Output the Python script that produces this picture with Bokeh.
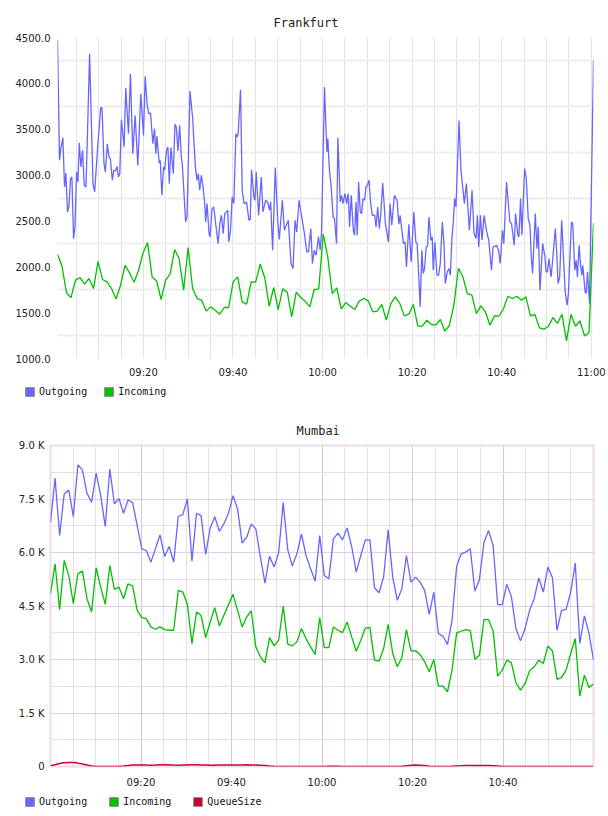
from bokeh.plotting import figure
from bokeh.models import FixedTicker, Legend, LegendItem, Range1d
from bokeh.layouts import column
from bokeh.embed import file_html
from bokeh.resources import INLINE

# ---------------- data: minutes after 09:00 ----------------
x_tick_minutes = [20, 40, 60, 80, 100, 120]
x_tick_labels = ["09:20", "09:40", "10:00", "10:20", "10:40", "11:00"]

fra_y_ticks = [1000, 1500, 2000, 2500, 3000, 3500, 4000, 4500]
fra_y_labels = ["1000.0", "1500.0", "2000.0", "2500.0", "3000.0", "3500.0", "4000.0", "4500.0"]

mum_y_ticks = [0, 1500, 3000, 4500, 6000, 7500, 9000]
mum_y_labels = ["0", "1.5 K", "3.0 K", "4.5 K", "6.0 K", "7.5 K", "9.0 K"]

# Frankfurt - Outgoing (irregular sample times, minutes after 09:00)
fra_out_min = [
    0.82, 1.27, 1.57, 2.02, 2.39, 2.69, 3.06, 3.36, 3.73, 4.03,
    4.41, 4.71, 5.08, 5.38, 5.68, 6.05, 6.42, 6.80, 7.17, 7.47,
    7.99, 8.74, 9.11, 9.79, 10.46, 10.76, 11.20, 11.50, 11.95, 12.33,
    12.62, 13.07, 13.37, 13.75, 14.12, 14.42, 14.72, 15.09, 15.69, 16.06,
    16.66, 17.10, 17.63, 18.15, 18.75, 19.42, 20.02, 20.39, 20.84, 21.21,
    21.59, 22.11, 22.48, 22.78, 23.01, 23.53, 23.75, 24.13, 24.50, 24.73,
    25.17, 25.47, 25.77, 26.14, 26.67, 27.04, 27.34, 27.71, 28.09, 28.46,
    28.68, 29.43, 29.73, 30.40, 31.00, 31.60, 31.97, 32.27, 32.57, 32.94,
    33.32, 33.69, 33.91, 34.21, 34.66, 34.89, 35.33, 35.71, 36.08, 36.68,
    37.05, 37.42, 37.80, 38.17, 38.54, 38.84, 39.07, 39.44, 39.82, 40.19,
    40.64, 40.94, 41.16, 41.68, 42.06, 42.50, 43.03, 43.55, 43.85, 44.15,
    44.67, 44.90, 45.19, 45.72, 46.31, 46.69, 47.29, 47.73, 48.18, 48.41,
    48.85, 49.45, 49.98, 50.35, 51.02, 51.47, 51.92, 52.36, 52.96, 53.41,
    53.86, 54.23, 54.76, 55.28, 55.95, 56.47, 56.85, 57.37, 57.74, 58.12,
    58.56, 59.09, 59.46, 59.76, 60.43, 60.96, 61.18, 61.48, 61.85,
    62.37, 62.67, 63.12, 63.42, 63.94, 64.24, 64.54, 64.99, 65.36, 65.73,
    66.03, 66.41, 66.86, 67.15, 67.45, 67.75, 68.05, 68.42, 68.72, 69.02,
    69.40, 69.69, 69.99, 70.37, 70.74, 71.11, 71.64, 71.94, 72.31, 72.68,
    72.98, 73.43, 74.03, 74.70, 75.07, 75.45, 76.04, 76.64, 77.01, 77.31,
    78.06, 78.43, 78.73, 79.26, 79.78, 80.38, 80.82, 81.12, 81.80, 82.17,
    82.47, 82.77, 83.14, 83.44, 83.74, 84.19, 84.48, 84.71, 85.08, 85.53,
    85.90, 86.28, 86.73, 87.10, 87.40, 87.85, 88.22, 88.52, 88.89, 89.19,
    89.49, 89.79, 90.46, 90.91, 91.66, 92.10, 92.78, 93.37, 93.82, 94.27,
    94.57, 94.87, 95.24, 95.61, 96.06, 96.59, 97.11, 97.71, 98.08, 98.53,
    98.83, 99.28, 99.65, 100.17, 100.47, 101.07, 101.82, 102.19, 102.79, 103.09,
    103.61, 103.83, 104.21, 104.50, 105.10, 105.48, 105.92, 106.30, 106.60, 106.89,
    107.49, 107.87, 108.16, 108.54, 109.14, 109.66, 109.88, 110.18, 110.55, 111.00,
    111.30, 111.97, 112.27, 112.57, 112.94, 113.39, 114.14, 114.59, 114.89, 115.56,
    115.86, 116.31, 116.61, 116.90, 117.28, 117.58, 117.88, 118.10, 118.62, 118.85,
    119.15, 119.60, 120.49,
]
fra_out = [
    4475, 3161, 3288, 3408, 2870, 3023, 2598, 2652, 2961, 2979,
    2307, 2434, 3034, 2925, 3353, 3088, 3270, 2888, 2870, 3379,
    4323, 2907, 2816, 3306, 3734, 3734, 3124, 3034, 3342, 3190,
    3179, 2943, 3052, 3045, 3095, 2979, 3015, 3604, 3306, 3952,
    3451, 4105, 3233, 3651, 3106, 3887, 3433, 4076, 3760, 3669,
    3676, 3342, 3506, 3233, 3422, 3132, 3161, 2779, 3088, 3052,
    3270, 3306, 2907, 3299, 3015, 3553, 3524, 3262, 3542, 3197,
    3124, 2489, 2543, 3916, 3615, 3088, 2943, 3015, 2834, 2997,
    2870, 2689, 2489, 2689, 2362, 2326, 2634, 2652, 2489, 2253,
    2471, 2562, 2362, 2580, 2598, 2616, 2271, 2398, 2761, 2689,
    3451, 3415, 3451, 3930, 2834, 2689, 2707, 2507, 2514, 3059,
    2761, 2725, 3034, 2562, 2979, 2598, 2725, 2707, 2616, 2707,
    2180, 3081, 2507, 2297, 2725, 2398, 2453, 2507, 2035, 1981,
    2507, 2380, 2725, 2562, 2362, 2162, 2162, 2416, 2035, 2180,
    2126, 2326, 2180, 2362, 3960, 3251, 3397, 3088, 2907,
    2543, 2525, 2253, 3408, 2707, 2779, 2689, 2798, 2689, 2798,
    2434, 2779, 2398, 2344, 2707, 2344, 2925, 2598, 2580, 2743,
    2725, 2870, 2888, 2943, 2689, 2562, 2562, 2434, 2652, 2416,
    2562, 2914, 2471, 2271, 2689, 2453, 2779, 2725, 2464, 2562,
    2253, 2271, 1999, 2464, 2053, 2598, 2271, 2253, 1563, 2180,
    1926, 1981, 2217, 2224, 2543, 2289, 2326, 1962, 2271, 1908,
    1908, 2035, 2489, 2253, 1817, 1944, 1981, 1908, 2326, 2489,
    2743, 2652, 3596, 3052, 2689, 2907, 2398, 2834, 2362, 2307,
    2562, 2217, 2562, 2289, 2562, 2398, 2289, 1962, 2217, 2224,
    2235, 2180, 2035, 2398, 2253, 2925, 2489, 2471, 2235, 2580,
    2344, 2326, 2743, 2344, 3070, 2961, 2525, 2453, 2108, 1926,
    2580, 2198, 2434, 1745, 2253, 2108, 1944, 1944, 2090, 1890,
    2035, 2416, 2162, 1817, 1890, 2507, 1745, 1581, 1708, 2489,
    2471, 1962, 2071, 1890, 2235, 2035, 1908, 2017, 1726, 1708,
    1944, 1599, 4250,
]
# Frankfurt - Incoming (one sample per minute, 09:00:49 .. 11:00:29)
fra_in = [
    2137, 2006, 1716, 1665, 1854, 1883, 1810, 1872, 1763, 2060,
    1861, 1835, 1763, 1650, 1799, 2017, 1933, 1832, 1962, 2151,
    2264, 1890, 1846, 1643, 1854, 1919, 2188, 2090, 1745, 2209,
    1763, 1654, 1636, 1519, 1563, 1527, 1483, 1556, 1556, 1835,
    1890, 1618, 1592, 1835, 1832, 2028, 1883, 1570, 1774, 1534,
    1759, 1726, 1454, 1723, 1665, 1625, 1563, 1752, 1759, 2355,
    2108, 1708, 1770, 1541, 1610, 1570, 1534, 1625, 1654, 1628,
    1509, 1516, 1589, 1418, 1599, 1672, 1599, 1465, 1483, 1589,
    1352, 1352, 1418, 1371, 1363, 1425, 1298, 1360, 1581, 1984,
    1890, 1708, 1690, 1490, 1574, 1509, 1363, 1465, 1461, 1541,
    1679, 1654, 1679, 1636, 1672, 1465, 1480, 1334, 1320, 1352,
    1447, 1382, 1483, 1193, 1480, 1352, 1411, 1247, 1280, 2478,
]
fra_start, fra_end = fra_out_min[0], fra_out_min[-1]
fra_in_min = [fra_start + i * (fra_end - fra_start) / (len(fra_in) - 1) for i in range(len(fra_in))]

# Mumbai (one sample per minute, 09:00 .. 11:00)
mum_out = [
    6848, 8087, 6475, 7640, 7752, 7006, 8460, 8311, 7659, 7407,
    8227, 7593, 6727, 8339, 7360, 7519, 7100, 7472, 7398, 6755,
    6103, 6056, 5730, 6103, 6494, 5888, 6168, 5730, 7016, 7062,
    7500, 5758, 7100, 7034, 5944, 6690, 7006, 6596, 6801, 7100,
    7593, 7221, 6261, 6429, 6801, 6662, 5870, 5143, 5898, 5590,
    5991, 7398, 6075, 5618, 5963, 6522, 5916, 5544, 5199, 6475,
    5357, 5264, 6382, 6541, 6354, 6690, 6168, 5450, 5916, 6354,
    6354, 5013, 4873, 5311, 6634, 5311, 4659, 4985, 5916, 5171,
    5311, 5171, 4938, 4267, 4891, 3727, 3652, 3419, 4099, 5609,
    5963, 6010, 6103, 4919, 5236, 6289, 6615, 6196, 4537, 4537,
    5106, 4770, 3867, 3522, 3867, 4379, 4705, 5283, 4891, 5590,
    5292, 3820, 4379, 4407, 4891, 5702, 3447, 4221, 3745, 2981,
]
mum_in = [
    4845, 5683, 4398, 5777, 5357, 4565, 5404, 5478, 4705, 4332,
    5572, 5031, 4547, 5637, 4966, 5031, 4705, 5124, 5059, 4379,
    4174, 4146, 3913, 3848, 3913, 3839, 3820, 3820, 4938, 4891,
    4547, 3447, 4332, 4239, 3615, 4053, 4454, 3941, 4239, 4537,
    4826, 4379, 3913, 4193, 4360, 3354, 3075, 2907, 3615, 3382,
    3540, 4500, 3429, 3382, 3494, 3867, 3587, 3354, 3140, 4174,
    3335, 3335, 3913, 3820, 3755, 4053, 3634, 3233, 3540, 3885,
    3894, 2981, 2953, 3308, 3988, 3168, 2795, 3056, 3839, 3242,
    3242, 3140, 2935, 2655, 3000, 2255, 2255, 2096, 2702, 3745,
    3792, 3839, 3801, 3009, 3121, 4127, 4118, 3801, 2534, 2702,
    2981, 2907, 2348, 2143, 2329, 2683, 2795, 2981, 2888, 3373,
    3242, 2441, 2497, 2702, 3168, 3587, 1975, 2562, 2217, 2311,
]
mum_queue = [
    20, 50, 85, 105, 115, 112, 95, 70, 40, 15,
    0, 0, 0, 0, 0, 5, 15, 30, 40, 45,
    45, 40, 38, 42, 48, 50, 45, 40, 38, 42,
    45, 50, 48, 45, 40, 35, 38, 42, 45, 45,
    42, 40, 45, 50, 45, 40, 35, 25, 12, 5,
    0, 0, 0, 0, 0, 0, 0, 0, 0, 0,
    0, 5, 10, 8, 3, 0, 0, 0, 0, 0,
    0, 0, 0, 0, 0, 0, 0, 5, 20, 35,
    40, 38, 25, 10, 3, 0, 0, 0, 5, 15,
    22, 25, 28, 30, 30, 28, 25, 20, 12, 5,
    0, 0, 0, 0, 0, 0, 0, 0, 0, 0,
    0, 0, 0, 0, 0, 0, 0, 0, 0, 0,
]
mum_start, mum_end = 0, 120
mum_min = [mum_start + i * (mum_end - mum_start) / (len(mum_out) - 1) for i in range(len(mum_out))]

BLUE = "#6666ff"
GREEN = "#00c000"
RED = "#cc0033"
SWATCH_BORDER = "#8c8c8c"
TICK_FONT = "DejaVu Sans"
MONO = "DejaVu Sans Mono"
NAN = float("nan")


def base_axes(p, xticks, xlabels, yticks, ylabels, x_standoff, y_standoff):
    for ax in (p.xaxis[0], p.yaxis[0]):
        ax.axis_line_color = None
        ax.major_tick_line_color = None
        ax.minor_tick_line_color = None
        ax.major_tick_in = 0
        ax.major_tick_out = 0
        ax.minor_tick_in = 0
        ax.minor_tick_out = 0
        ax.major_label_text_font = TICK_FONT
        ax.major_label_text_font_size = "10px"
        ax.major_label_text_color = "#222222"
    p.xaxis[0].ticker = FixedTicker(ticks=xticks)
    p.xaxis[0].major_label_overrides = dict(zip(xticks, xlabels))
    p.xaxis[0].major_label_standoff = x_standoff
    p.yaxis[0].ticker = FixedTicker(ticks=yticks)
    p.yaxis[0].major_label_overrides = dict(zip(yticks, ylabels))
    p.yaxis[0].major_label_standoff = y_standoff


def style_title(p, offset):
    p.title.align = "left"
    p.title.offset = offset
    p.title.standoff = 15
    p.title.text_font = MONO
    p.title.text_font_size = "12px"
    p.title.text_font_style = "normal"
    p.title.text_color = "#222222"


def legend_strip(height, names, colors, loc, spacing):
    q = figure(width=608, height=height, output_backend="svg", toolbar_location=None,
               x_range=Range1d(0, 1), y_range=Range1d(0, 1),
               x_axis_location=None, y_axis_location=None, min_border=0,
               frame_align=False)
    q.outline_line_color = None
    q.xgrid.visible = False
    q.ygrid.visible = False
    items = []
    for name, col in zip(names, colors):
        # swatch-only renderer: one row with NaN geometry, so nothing is drawn in the plot
        r = q.quad(left=[NAN], right=[NAN], top=[NAN], bottom=[NAN], fill_color=col,
                   line_color=SWATCH_BORDER, line_width=1)
        items.append(LegendItem(label=name, renderers=[r]))
    lg = Legend(items=items, orientation="horizontal", location=loc,
                glyph_width=11, glyph_height=11, label_height=11, label_width=10,
                label_standoff=4, spacing=spacing, padding=0, margin=0,
                border_line_color=None, background_fill_alpha=0,
                label_text_font=MONO, label_text_font_size="10px",
                label_text_color="#111111")
    q.add_layout(lg)
    return q


# ---------------- Frankfurt ----------------
p1 = figure(width=608, height=380, output_backend="svg", toolbar_location=None,
            x_range=Range1d(fra_start, fra_end), y_range=Range1d(1000, 4500),
            min_border_left=57, min_border_right=15, min_border_top=37, min_border_bottom=22,
            title="Frankfurt", frame_align=False)
style_title(p1, 216)
p1.outline_line_color = None
base_axes(p1, x_tick_minutes, x_tick_labels, fra_y_ticks, fra_y_labels, 8, 7)
p1.xgrid.ticker = FixedTicker(ticks=list(range(5, 125, 5)))
p1.xgrid.grid_line_color = "#e2e2e2"
p1.xgrid.grid_line_width = 1
p1.ygrid.ticker = FixedTicker(ticks=[v + 250 for v in fra_y_ticks[:-1]])
p1.ygrid.grid_line_color = "#eeeeee"
p1.ygrid.grid_line_width = 2

p1.line(fra_out_min, fra_out, line_color=BLUE, line_width=1.3)
p1.line(fra_in_min, fra_in, line_color=GREEN, line_width=1.3)
leg1 = legend_strip(30, ["Outgoing", "Incoming"], [BLUE, GREEN], (24, 13), 16)

# ---------------- Mumbai ----------------
p2 = figure(width=608, height=385, output_backend="svg", toolbar_location=None,
            x_range=Range1d(mum_start, mum_end), y_range=Range1d(0, 9000),
            min_border_left=50, min_border_right=15, min_border_top=35, min_border_bottom=29,
            title="Mumbai", frame_align=False)
style_title(p2, 246)
p2.outline_line_color = "#ecdcec"
p2.outline_line_width = 2
base_axes(p2, x_tick_minutes[:-1], x_tick_labels[:-1], mum_y_ticks, mum_y_labels, 10, 6)
p2.xgrid.ticker = FixedTicker(ticks=x_tick_minutes[:-1],
                              minor_ticks=[m for m in range(5, 120, 5) if m % 20])
p2.xgrid.grid_line_color = "#dcc0dc"
p2.xgrid.minor_grid_line_color = "#e4e0e4"
p2.ygrid.ticker = FixedTicker(ticks=mum_y_ticks,
                              minor_ticks=[v + 750 for v in mum_y_ticks[:-1]])
p2.ygrid.grid_line_color = "#e4cce4"
p2.ygrid.minor_grid_line_color = "#e4e0e4"

p2.line(mum_min, mum_out, line_color=BLUE, line_width=1.3)
p2.line(mum_min, mum_in, line_color=GREEN, line_width=1.3)
p2.line(mum_min, mum_queue, line_color=RED, line_width=1.5)
leg2 = legend_strip(21, ["Outgoing", "Incoming", "QueueSize"], [BLUE, GREEN, RED], (24, 9), 21)

layout = column(p1, leg1, p2, leg2, spacing=0)
open("out.html", "w").write(file_html(layout, INLINE))
